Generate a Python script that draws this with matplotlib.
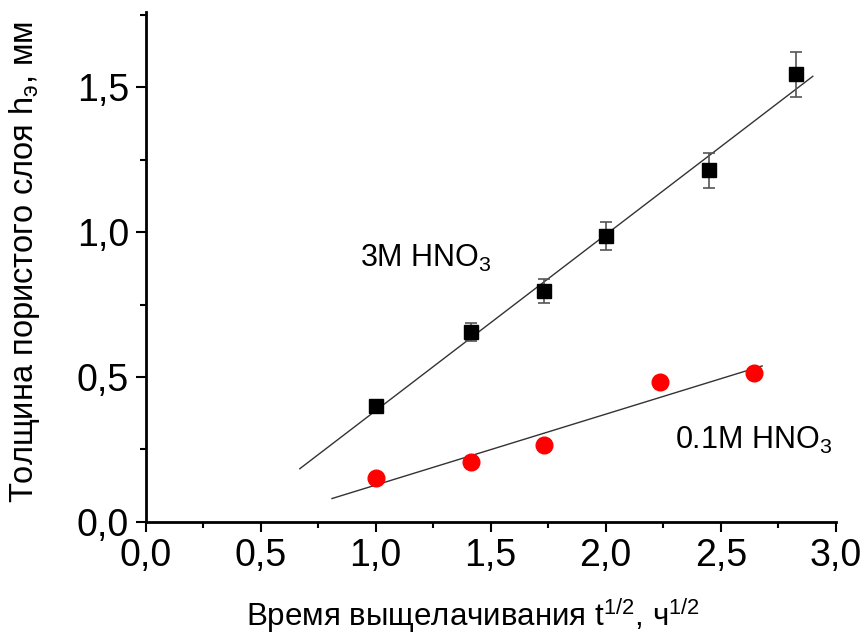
import numpy as np
import matplotlib.pyplot as plt
from matplotlib.ticker import MultipleLocator, FuncFormatter

plt.rcParams['font.family'] = ['Liberation Sans', 'DejaVu Sans']
plt.rcParams['mathtext.fontset'] = 'custom'
plt.rcParams['mathtext.rm'] = 'Liberation Sans'
plt.rcParams['mathtext.it'] = 'Liberation Sans:italic'
plt.rcParams['mathtext.default'] = 'regular'

# 3M HNO3 (squares with error bars)
x_3m = [1.0, 1.414, 1.732, 2.0, 2.449, 2.828]
h_3m = [0.40, 0.655, 0.797, 0.986, 1.214, 1.545]
err_3m = [0.0, 0.03, 0.041, 0.048, 0.06, 0.078]

# 0.1M HNO3 (circles)
x_01m = [1.0, 1.414, 1.732, 2.236, 2.646]
h_01m = [0.152, 0.207, 0.265, 0.483, 0.513]

# extent of the fit lines
fit_range_3m = [0.67, 2.9]
fit_range_01m = [0.81, 2.68]

fig = plt.figure(figsize=(8.67, 6.34), dpi=100)
ax = fig.add_axes([0.168, 0.177, 0.796, 0.804])

# linear fits
for xs, ys, rng in [(x_3m, h_3m, fit_range_3m), (x_01m, h_01m, fit_range_01m)]:
    k, b = np.polyfit(xs, ys, 1)
    xf = np.array(rng)
    ax.plot(xf, k * xf + b, color='#333333', lw=1.0, zorder=2)

ax.errorbar(x_3m, h_3m, yerr=err_3m, fmt='none', ecolor='#555555',
            elinewidth=1.2, capsize=4.5, capthick=1.2, zorder=3)
ax.plot(x_3m, h_3m, 's', color='black', markersize=10, zorder=4)
ax.plot(x_01m, h_01m, 'o', color='#ff0000', markeredgecolor='#ff0000',
        markersize=12, zorder=4)

ax.text(0.93, 0.91, '3M HNO$_3$', fontsize=22, va='center', ha='left')
ax.text(2.30, 0.28, '0.1M HNO$_3$', fontsize=22, va='center', ha='left')

ax.set_xlim(0, 3.0)
ax.set_ylim(0, 1.76)
ax.spines['top'].set_visible(False)
ax.spines['right'].set_visible(False)
for s in ['left', 'bottom']:
    ax.spines[s].set_linewidth(2)

ax.xaxis.set_major_locator(MultipleLocator(0.5))
ax.xaxis.set_minor_locator(MultipleLocator(0.25))
ax.yaxis.set_major_locator(MultipleLocator(0.5))
ax.yaxis.set_minor_locator(MultipleLocator(0.25))
comma = FuncFormatter(lambda v, p: f'{v:.1f}'.replace('.', ','))
ax.xaxis.set_major_formatter(comma)
ax.yaxis.set_major_formatter(comma)
ax.tick_params(which='major', direction='out', length=7, width=1.5,
               labelsize=27, pad=5)
ax.tick_params(which='minor', direction='out', length=4, width=1.5)

ax.set_xlabel('Время выщелачивания t$^{1/2}$, ч$^{1/2}$', fontsize=22.5)
ax.xaxis.set_label_coords(0.475, -0.145)
ax.set_ylabel('Толщина пористого слоя h$_э$, мм', fontsize=23.5)
ax.yaxis.set_label_coords(-0.15, 0.51)

fig.savefig('out.png', dpi=100)
